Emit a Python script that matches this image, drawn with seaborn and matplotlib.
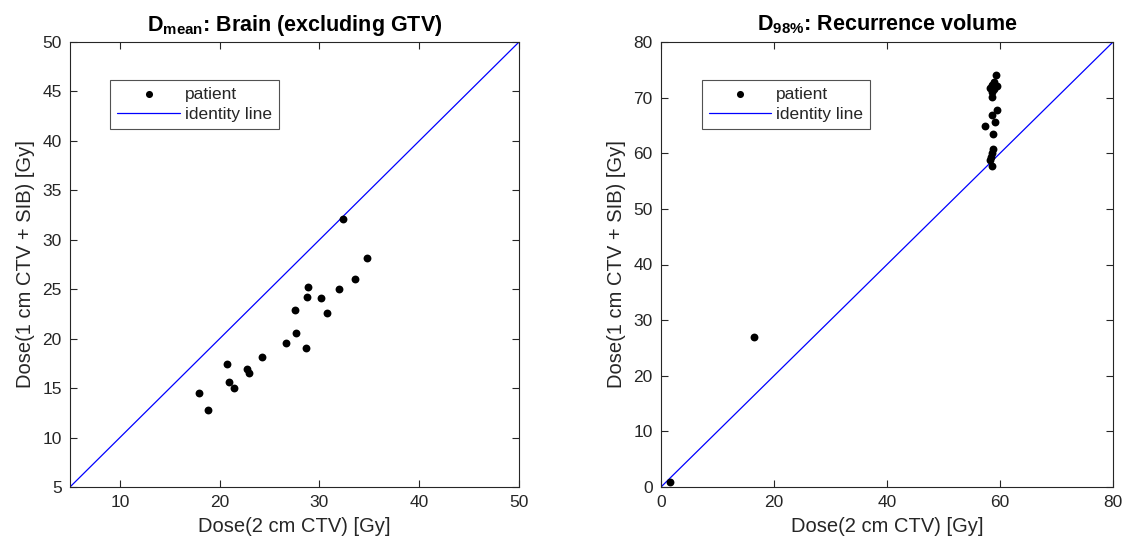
import numpy as np
import pandas as pd
import matplotlib
matplotlib.use("Agg")
import matplotlib.pyplot as plt
import seaborn as sns

# Mean brain dose (excluding GTV) per patient [Gy]
brain_2cm = [32.4, 34.8, 33.6, 32.0, 28.9, 28.8, 30.2, 30.8, 27.5, 27.7,
             26.6, 28.7, 24.2, 22.7, 22.9, 20.7, 20.9, 21.4, 17.9, 18.8]
brain_1cm = [32.1, 28.2, 26.0, 25.0, 25.2, 24.2, 24.1, 22.6, 22.9, 20.6,
             19.6, 19.1, 18.15, 16.9, 16.5, 17.4, 15.6, 15.05, 14.5, 12.8]

# D98% of the recurrence volume per patient [Gy]
rec_2cm = [59.3, 59.0, 58.5, 59.5, 58.3, 58.9, 58.5, 58.5, 59.4, 58.6,
           59.1, 57.4, 58.7, 58.7, 58.5, 58.4, 58.3, 58.5, 16.5, 1.65]
rec_1cm = [74.0, 72.8, 72.3, 72.1, 71.7, 71.5, 71.1, 70.2, 67.8, 66.9,
           65.6, 64.9, 63.5, 60.7, 60.1, 59.3, 58.7, 57.7, 27.0, 0.85]

brain_lim = [5, 50]
rec_lim = [0, 80]
brain_xticks = [10, 20, 30, 40, 50]
brain_yticks = [5, 10, 15, 20, 25, 30, 35, 40, 45, 50]
rec_xticks = [0, 20, 40, 60, 80]
rec_yticks = [0, 10, 20, 30, 40, 50, 60, 70, 80]

sns.set_theme(style="white")
plt.rcParams["font.family"] = ["Liberation Sans", "DejaVu Sans"]
plt.rcParams["mathtext.fontset"] = "custom"
plt.rcParams["mathtext.rm"] = "Liberation Sans"
plt.rcParams["mathtext.bf"] = "Liberation Sans:bold"
plt.rcParams["mathtext.it"] = "Liberation Sans:italic"

AX_COL = "#262626"
TXT_COL = "#262626"

fig = plt.figure(figsize=(11.28, 5.53), dpi=100)
ax1 = fig.add_axes([70 / 1128, 66 / 553, 449 / 1128, 445 / 553])
ax2 = fig.add_axes([661 / 1128, 66 / 553, 452 / 1128, 445 / 553])


def panel(ax, xs, ys, lim, xticks, yticks, title):
    df = pd.DataFrame({"x": xs, "y": ys})
    sns.scatterplot(data=df, x="x", y="y", ax=ax, color="black", s=32,
                    edgecolor="black", linewidth=0, label="patient", zorder=3)
    ident = pd.DataFrame({"x": lim, "y": lim})
    sns.lineplot(data=ident, x="x", y="y", ax=ax, color="blue", linewidth=0.9,
                 label="identity line", zorder=2)
    ax.set_xlim(lim)
    ax.set_ylim(lim)
    ax.set_xticks(xticks)
    ax.set_yticks(yticks)
    ax.set_xlabel("Dose(2 cm CTV) [Gy]", fontsize=14.5, color=TXT_COL,
                  labelpad=5)
    ax.set_ylabel("Dose(1 cm CTV + SIB) [Gy]", fontsize=14.5, color=TXT_COL,
                  labelpad=5)
    ax.set_title(title, fontsize=15.5, fontweight="bold", color="black", pad=8)
    ax.tick_params(direction="in", length=5, width=0.8, colors=AX_COL,
                   labelsize=12.5, top=True, right=True, bottom=True, left=True,
                   labelcolor=TXT_COL, pad=6)
    for sp in ax.spines.values():
        sp.set_visible(True)
        sp.set_color(AX_COL)
        sp.set_linewidth(0.8)
    leg = ax.legend(loc="upper left", bbox_to_anchor=(0.09, 0.915),
                    borderaxespad=0, frameon=True, fancybox=False,
                    fontsize=12.5, handlelength=3.6, handletextpad=0.3,
                    borderpad=0.4, labelspacing=0.3, markerscale=0.9)
    leg.get_frame().set_edgecolor(AX_COL)
    leg.get_frame().set_linewidth(0.8)
    for t in leg.get_texts():
        t.set_color(TXT_COL)


panel(ax1, brain_2cm, brain_1cm, brain_lim, brain_xticks, brain_yticks,
      r"$\mathbf{D}_{\mathbf{mean}}$: Brain (excluding GTV)")
panel(ax2, rec_2cm, rec_1cm, rec_lim, rec_xticks, rec_yticks,
      r"$\mathbf{D}_{\mathbf{98\%}}$: Recurrence volume")

fig.savefig("out.png", dpi=100)
